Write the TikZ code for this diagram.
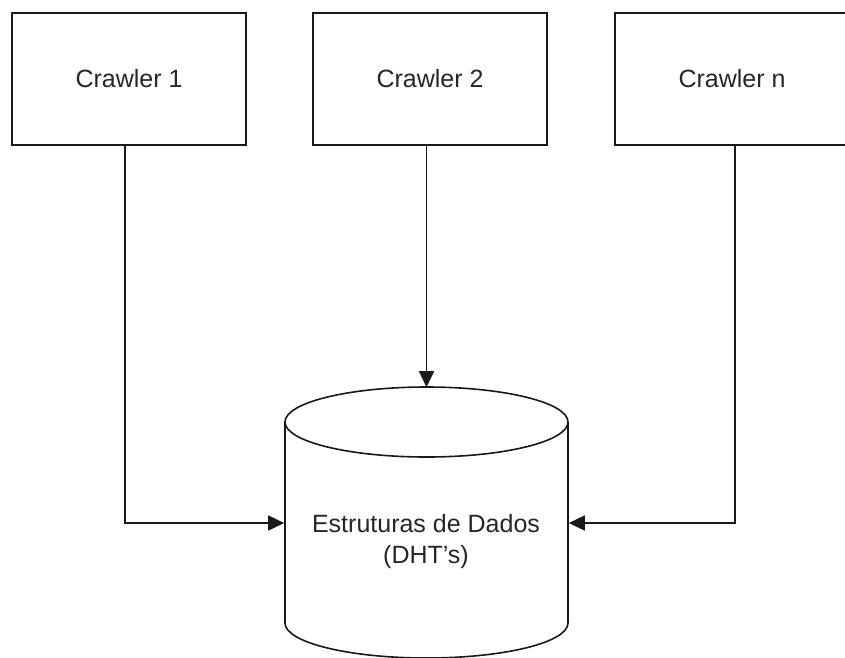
\documentclass[tikz,border=0pt]{standalone}
\usepackage{fontspec}
\setmainfont{Liberation Sans}
\usetikzlibrary{arrows.meta,calc}
\begin{document}
\begin{tikzpicture}[x=1pt,y=-1pt,line width=1.6pt,
  crawlerbox/.style={draw=black!90,minimum width=234pt,minimum height=132pt,inner sep=0pt,
    font=\fontsize{25}{30}\selectfont,text=black!85},
  conn/.style={draw=black!90,-{Triangle[length=16pt,width=15pt]}},
  cyl/.style={draw=black!90}]
\useasboundingbox (0,0) rectangle (845,657);
\clip (0,0) rectangle (845,657);
\node[crawlerbox] (c1) at (129,79) {Crawler 1};
\node[crawlerbox] (c2) at (430,79) {Crawler 2};
\node[crawlerbox] (cn) at (732,79) {Crawler n};
% cylinder
\node[minimum width=283pt,minimum height=270pt,inner sep=0pt] (db) at (426.5,523) {};
\draw[cyl] (426.5,422) ellipse [x radius=141.5, y radius=35];
\draw[cyl] (285,422) -- (285,623) arc[start angle=180,end angle=0,x radius=141.5,y radius=35] -- (568,422);
\node[align=center,font=\fontsize{25}{31}\selectfont,text=black!85] (dbt) at (426,542) {Estruturas de Dados\\(DHT's)};
% connectors
\draw[conn] ([xshift=-4pt]c1.south) |- (db.west);
\draw[conn] (c2.south -| db.north) -- (db.north);
\draw[conn] ([xshift=3pt]cn.south) |- (db.east);
\end{tikzpicture}
\end{document}
